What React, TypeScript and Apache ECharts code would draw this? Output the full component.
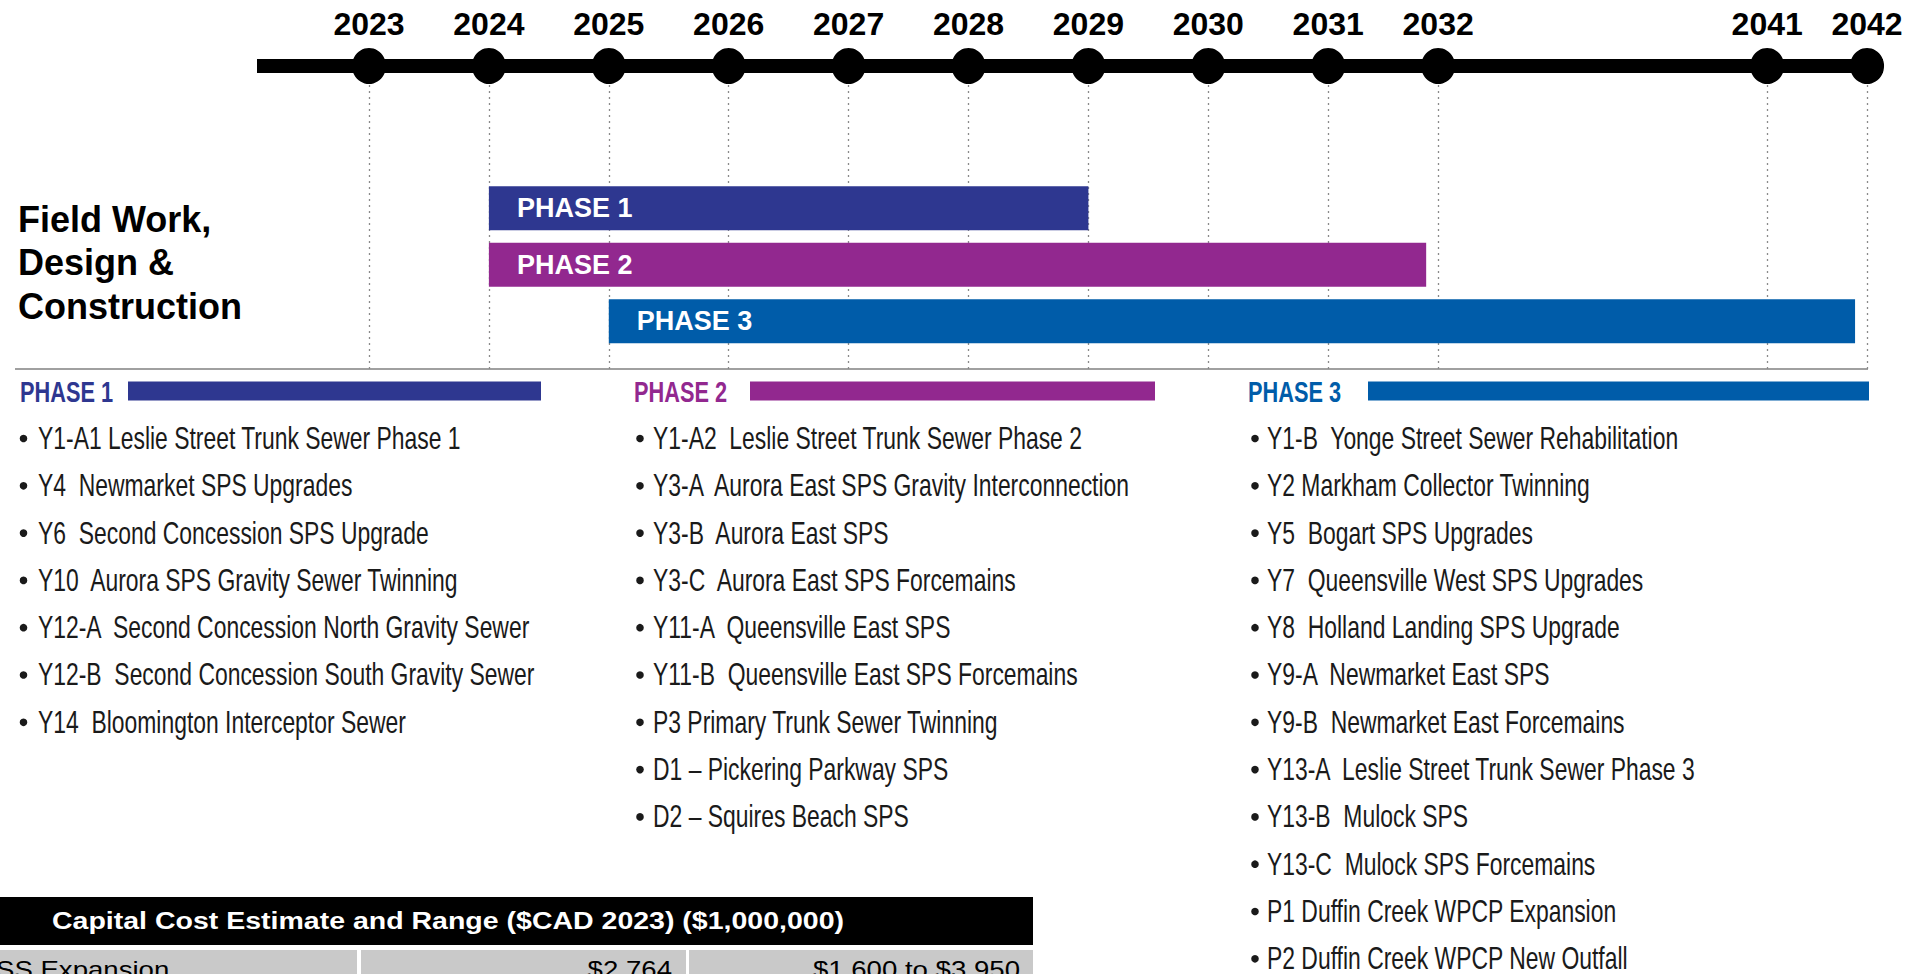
import React, { useEffect, useRef } from 'react';
import * as echarts from 'echarts';

// ---------- data ----------
const years = [2023, 2024, 2025, 2026, 2027, 2028, 2029, 2030, 2031, 2032, 2041, 2042];
const phaseNames = ['PHASE 1', 'PHASE 2', 'PHASE 3'];
const phaseStart = [2024, 2024, 2025];
const phaseEnd = [2029, 2031.9, 2041.9];
const headingLines = ['Field Work,', 'Design &', 'Construction'];

const phase1Projects = [
  'Y1-A1 Leslie Street Trunk Sewer Phase 1',
  'Y4  Newmarket SPS Upgrades',
  'Y6  Second Concession SPS Upgrade',
  'Y10  Aurora SPS Gravity Sewer Twinning',
  'Y12-A  Second Concession North Gravity Sewer',
  'Y12-B  Second Concession South Gravity Sewer',
  'Y14  Bloomington Interceptor Sewer',
];
const phase2Projects = [
  'Y1-A2  Leslie Street Trunk Sewer Phase 2',
  'Y3-A  Aurora East SPS Gravity Interconnection',
  'Y3-B  Aurora East SPS',
  'Y3-C  Aurora East SPS Forcemains',
  'Y11-A  Queensville East SPS',
  'Y11-B  Queensville East SPS Forcemains',
  'P3 Primary Trunk Sewer Twinning',
  'D1 – Pickering Parkway SPS',
  'D2 – Squires Beach SPS',
];
const phase3Projects = [
  'Y1-B  Yonge Street Sewer Rehabilitation',
  'Y2 Markham Collector Twinning',
  'Y5  Bogart SPS Upgrades',
  'Y7  Queensville West SPS Upgrades',
  'Y8  Holland Landing SPS Upgrade',
  'Y9-A  Newmarket East SPS',
  'Y9-B  Newmarket East Forcemains',
  'Y13-A  Leslie Street Trunk Sewer Phase 3',
  'Y13-B  Mulock SPS',
  'Y13-C  Mulock SPS Forcemains',
  'P1 Duffin Creek WPCP Expansion',
  'P2 Duffin Creek WPCP New Outfall',
];
const costHeader = 'Capital Cost Estimate and Range ($CAD 2023) ($1,000,000)';
const costRow = ['SS Expansion', '$2,764', '$1,600 to $3,950'];

// ---------- styles / layout ----------
const phaseColors = ['#2e3790', '#92288f', '#005ca9'];
const FONT = '"Liberation Sans", Arial, Helvetica, sans-serif';
const X_MIN = 2022.066;
const X_MAX = 2042.133;
const axisBreaks = [
  { start: 2031.4, end: 2031.6, gap: 0.117 },
  { start: 2032.5, end: 2040.5, gap: 1.744 },
  { start: 2041.4, end: 2041.6, gap: 0.033 },
];
const GRID_LEFT = 257;
const GRID_RIGHT = 33;
const TIMELINE_Y = 66;

const columns = [
  { items: phase1Projects, headX: 20, barX0: 128, barX1: 541, bulletX: 23.5, textX: 38 },
  { items: phase2Projects, headX: 634, barX0: 750, barX1: 1155, bulletX: 640, textX: 653 },
  { items: phase3Projects, headX: 1248, barX0: 1368, barX1: 1869, bulletX: 1255, textX: 1267 },
];

function txt(x: number, y: number, text: string, o: any = {}) {
  const { scaleX, align = 'left', ...rest } = o;
  const el: any = {
    type: 'text',
    x,
    y,
    silent: true,
    style: {
      text,
      fontFamily: FONT,
      align,
      textAlign: align,
      verticalAlign: 'middle',
      textVerticalAlign: 'middle',
      ...rest,
    },
  };
  if (scaleX) el.scaleX = scaleX;
  return el;
}

function buildGraphics() {
  const g: any[] = [];
  // timeline bar
  g.push({
    type: 'line',
    silent: true,
    z: 1,
    shape: { x1: GRID_LEFT, y1: TIMELINE_Y, x2: 1916 - GRID_RIGHT, y2: TIMELINE_Y },
    style: { stroke: '#000', lineWidth: 14 },
  });
  // left heading
  headingLines.forEach((line, i) => {
    g.push(txt(18, 219.5 + i * 43.3, line, { fontSize: 36, fontWeight: 'bold', fill: '#000' }));
  });
  // separator
  g.push({
    type: 'line',
    silent: true,
    shape: { x1: 15, y1: 369, x2: 1868, y2: 369 },
    style: { stroke: '#a0a0a0', lineWidth: 2 },
  });
  // phase lists
  columns.forEach((c, ci) => {
    g.push(
      txt(c.headX, 392, phaseNames[ci], {
        fontSize: 29,
        fontWeight: 'bold',
        fill: phaseColors[ci],
        scaleX: 0.75,
      })
    );
    g.push({
      type: 'rect',
      silent: true,
      shape: { x: c.barX0, y: 381.5, width: c.barX1 - c.barX0, height: 19 },
      style: { fill: phaseColors[ci] },
    });
    c.items.forEach((item, k) => {
      const y = 438 + k * 47.3;
      g.push({
        type: 'circle',
        silent: true,
        shape: { cx: c.bulletX, cy: y + 0.5, r: 3.8 },
        style: { fill: '#1a1a1a' },
      });
      g.push(txt(c.textX, y, item, { fontSize: 32, fill: '#1a1a1a', scaleX: 0.716 }));
    });
  });
  // cost table
  g.push({
    type: 'rect',
    silent: true,
    shape: { x: -10, y: 897, width: 1043, height: 48 },
    style: { fill: '#000' },
  });
  [[-10, 357], [361, 686], [689, 1033]].forEach(([a, b]) => {
    g.push({
      type: 'rect',
      silent: true,
      shape: { x: a, y: 950, width: b - a, height: 40 },
      style: { fill: '#c9c9c9' },
    });
  });
  g.push(txt(52, 921, costHeader, { fontSize: 23, fontWeight: 'bold', fill: '#fff', scaleX: 1.24 }));
  g.push(txt(-4, 970, costRow[0], { fontSize: 23, fill: '#000', scaleX: 1.2 }));
  g.push(txt(672, 970, costRow[1], { fontSize: 23, fill: '#000', scaleX: 1.2, align: 'right' }));
  g.push(txt(1020, 970, costRow[2], { fontSize: 23, fill: '#000', scaleX: 1.2, align: 'right' }));
  return g;
}

export default function App() {
  const ref = useRef<HTMLDivElement>(null);

  useEffect(() => {
    if (!ref.current) return;
    const chart = echarts.init(ref.current, undefined, { renderer: 'svg' });

    const xCommon: any = {
      type: 'value',
      min: X_MIN,
      max: X_MAX,
      breaks: axisBreaks,
      breakArea: { show: false },
    };

    const option: any = {
      animation: false,
      backgroundColor: '#ffffff',
      grid: [
        { left: GRID_LEFT, right: GRID_RIGHT, top: TIMELINE_Y, height: 303, outerBoundsMode: 'none' },
        { left: GRID_LEFT, right: GRID_RIGHT, top: 180, height: 169.5, outerBoundsMode: 'none' },
      ],
      xAxis: [
        {
          ...xCommon,
          gridIndex: 0,
          position: 'top',
          axisLine: { show: false, onZero: false },
          axisTick: { show: false },
          splitLine: { show: false },
          axisLabel: {
            show: true,
            customValues: years,
            formatter: (v: number) => String(Math.round(v)),
            fontSize: 32,
            fontWeight: 'bold',
            fontFamily: FONT,
            color: '#000',
            margin: 42,
            verticalAlign: 'middle',
          },
        },
        { ...xCommon, gridIndex: 1, show: false },
      ],
      yAxis: [
        { type: 'value', gridIndex: 0, min: 0, max: 1, show: false },
        { type: 'category', gridIndex: 1, data: phaseNames, inverse: true, show: false },
      ],
      series: [
        {
          type: 'scatter',
          xAxisIndex: 0,
          yAxisIndex: 0,
          data: years.map((y) => [y, 1]),
          symbol: 'circle',
          symbolSize: [34, 36],
          itemStyle: { color: '#000', opacity: 1 },
          clip: false,
          silent: true,
          z: 6,
          markLine: {
            silent: true,
            z: 3,
            symbol: ['none', 'none'],
            label: { show: false },
            lineStyle: { type: [2, 4], color: '#8a8a8a', width: 1.3, opacity: 1 },
            data: years.map((y) => ({ xAxis: y })),
          },
        },
        {
          type: 'custom',
          xAxisIndex: 1,
          yAxisIndex: 1,
          z: 8,
          silent: true,
          encode: { x: [0, 1], y: 2 },
          data: phaseNames.map((n, i) => [phaseStart[i], phaseEnd[i], i]),
          renderItem: (params: any, api: any) => {
            const i = params.dataIndex;
            const yv = api.value(2);
            const p0 = api.coord([api.value(0), yv]);
            const p1 = api.coord([api.value(1), yv]);
            const h = 44;
            return {
              type: 'group',
              children: [
                {
                  type: 'rect',
                  shape: { x: p0[0], y: p0[1] - h / 2, width: p1[0] - p0[0], height: h },
                  style: { fill: phaseColors[i] },
                },
                {
                  type: 'text',
                  x: p0[0] + 28,
                  y: p0[1],
                  style: {
                    text: phaseNames[i],
                    fill: '#fff',
                    fontSize: 27,
                    fontWeight: 'bold',
                    fontFamily: FONT,
                    align: 'left',
                    verticalAlign: 'middle',
                  },
                },
              ],
            };
          },
        },
      ],
      graphic: { elements: buildGraphics() },
    };

    chart.setOption(option);
    return () => chart.dispose();
  }, []);

  return (
    <div
      ref={ref}
      style={{ position: 'fixed', left: 0, top: 0, width: 1916, height: 974, background: '#fff' }}
    />
  );
}
